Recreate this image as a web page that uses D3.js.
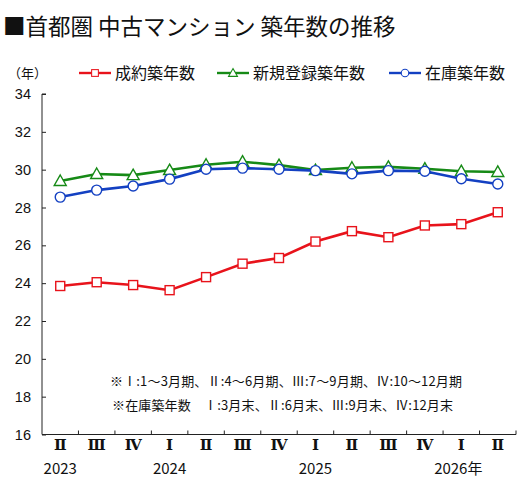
<html>
<head>
<meta charset="utf-8">
<script src="https://d3js.org/d3.v7.min.js"></script>
<style>
  body { margin: 0; background: #fff; }
  text { font-family: "Noto Sans CJK JP", "Noto Sans", sans-serif; fill: #111; }
  .roman { font-family: "DejaVu Serif", "Liberation Serif", serif; font-weight: bold; }
</style>
</head>
<body>
<svg width="526" height="493"></svg>
<script>
// quarters shown on the x axis
var quarters = ["Ⅱ","Ⅲ","Ⅳ","Ⅰ","Ⅱ","Ⅲ","Ⅳ","Ⅰ","Ⅱ","Ⅲ","Ⅳ","Ⅰ","Ⅱ"];
var yearLabels = [{i: 0, t: "2023"}, {i: 3, t: "2024"}, {i: 7, t: "2025"}, {i: 11, t: "2026年"}];
var yTicks = [16, 18, 20, 22, 24, 26, 28, 30, 32, 34];

// 築年数 (years)
var seiyaku = [23.85, 24.05, 23.9, 23.63, 24.32, 25.03, 25.33, 26.2, 26.75, 26.43, 27.05, 27.12, 27.75];
var shinki  = [29.4, 29.77, 29.71, 29.98, 30.26, 30.42, 30.24, 29.98, 30.1, 30.15, 30.05, 29.92, 29.88];
var zaiko   = [28.55, 28.92, 29.14, 29.5, 30.02, 30.08, 30.02, 29.95, 29.78, 29.95, 29.92, 29.52, 29.24];

var series = [
  {name: "成約築年数", values: seiyaku, color: "#e8131b", mark: "square"},
  {name: "新規登録築年数", values: shinki, color: "#168a16", mark: "triangle"},
  {name: "在庫築年数", values: zaiko, color: "#1340c2", mark: "circle"}
];

var svg = d3.select("svg");
var pLeft = 42, pRight = 516, pTop = 94, pBottom = 434.5;

var x = d3.scaleBand().domain(d3.range(quarters.length)).range([pLeft, pRight]);
var y = d3.scaleLinear().domain([16, 34]).range([pBottom, pTop]);

// title
svg.append("text")
  .attr("x", 3).attr("y", 35)
  .style("font-size", "22.5px")
  .text("■首都圏 中古マンション 築年数の推移");

// y axis (ticks inside)
var yAxis = svg.append("g")
  .attr("transform", "translate(" + pLeft + ",0)")
  .call(d3.axisRight(y).tickValues(yTicks).tickSize(4).tickFormat(""));
yAxis.select(".domain").attr("d", "M4," + pTop + "H0V" + pBottom);
yAxis.selectAll("line,path").attr("stroke", "#222");

svg.selectAll(".ylab").data(yTicks).enter().append("text")
  .attr("x", 31).attr("y", function(d) { return y(d); })
  .attr("dy", "0.35em")
  .attr("text-anchor", "end")
  .style("font-size", "14.5px")
  .style("font-family", "Liberation Sans, Arial, sans-serif")
  .text(function(d) { return d; });

svg.append("text")
  .attr("x", 8).attr("y", 78)
  .style("font-size", "13px")
  .text("（年）");

// x axis (ticks between bands, pointing up)
var xAxis = svg.append("g")
  .attr("transform", "translate(0," + pBottom + ")");
xAxis.append("line").attr("x1", pLeft).attr("x2", pRight).attr("stroke", "#222");
xAxis.selectAll(".tk").data(d3.range(1, quarters.length + 1)).enter().append("line")
  .attr("x1", function(i) { return pLeft + x.step() * i; })
  .attr("x2", function(i) { return pLeft + x.step() * i; })
  .attr("y1", 0).attr("y2", -4)
  .attr("stroke", "#222");

svg.selectAll(".q").data(quarters).enter().append("text")
  .attr("class", "roman")
  .attr("x", function(d, i) { return x(i) + x.bandwidth() / 2; })
  .attr("y", 450)
  .attr("text-anchor", "middle")
  .style("font-size", "15px")
  .text(function(d) { return d; });

svg.selectAll(".yr").data(yearLabels).enter().append("text")
  .attr("x", function(d) { return x(d.i) + x.bandwidth() / 2 - (d.t.length > 4 ? 3 : 0); })
  .attr("y", 474)
  .attr("text-anchor", "middle")
  .style("font-size", "15px")
  .text(function(d) { return d.t; });

// notes
svg.append("text").attr("x", 110).attr("y", 386).style("font-size", "13px")
  .attr("textLength", 352)
  .text("※Ⅰ:1～3月期、Ⅱ:4～6月期、Ⅲ:7～9月期、Ⅳ:10～12月期");
svg.append("text").attr("x", 112).attr("y", 410).style("font-size", "13px")
  .attr("textLength", 341)
  .text("※在庫築年数　Ⅰ:3月末、Ⅱ:6月末、Ⅲ:9月末、Ⅳ:12月末");

function drawMark(g, kind, color) {
  if (kind === "square") {
    g.append("rect").attr("x", -4.5).attr("y", -4.5).attr("width", 9).attr("height", 9)
      .attr("fill", "#fff").attr("stroke", color).attr("stroke-width", 1.4);
  } else if (kind === "triangle") {
    g.append("path").attr("d", "M0,-6L6,4.5H-6Z")
      .attr("fill", "#fff").attr("stroke", color).attr("stroke-width", 1.4);
  } else {
    g.append("circle").attr("r", 5)
      .attr("fill", "#fff").attr("stroke", color).attr("stroke-width", 1.4);
  }
}

var line = d3.line()
  .x(function(d, i) { return x(i) + x.bandwidth() / 2; })
  .y(function(d) { return y(d); });

series.forEach(function(s) {
  svg.append("path")
    .datum(s.values)
    .attr("fill", "none")
    .attr("stroke", s.color)
    .attr("stroke-width", 2.6)
    .attr("d", line);
  s.values.forEach(function(v, i) {
    var g = svg.append("g").attr("transform", "translate(" + (x(i) + x.bandwidth() / 2) + "," + y(v) + ")");
    drawMark(g, s.mark, s.color);
  });
});

// legend
var legendX = [79, 217, 389];
series.forEach(function(s, k) {
  var lg = svg.append("g").attr("transform", "translate(" + legendX[k] + ",73)");
  lg.append("line").attr("x1", 0).attr("x2", 32).attr("stroke", s.color).attr("stroke-width", 2.4);
  var m = lg.append("g").attr("transform", "translate(16,0) scale(0.75)");
  drawMark(m, s.mark, s.color);
  lg.append("text").attr("x", 36).attr("dy", "0.36em")
    .style("font-size", "16px")
    .text(s.name);
});
</script>
</body>
</html>
